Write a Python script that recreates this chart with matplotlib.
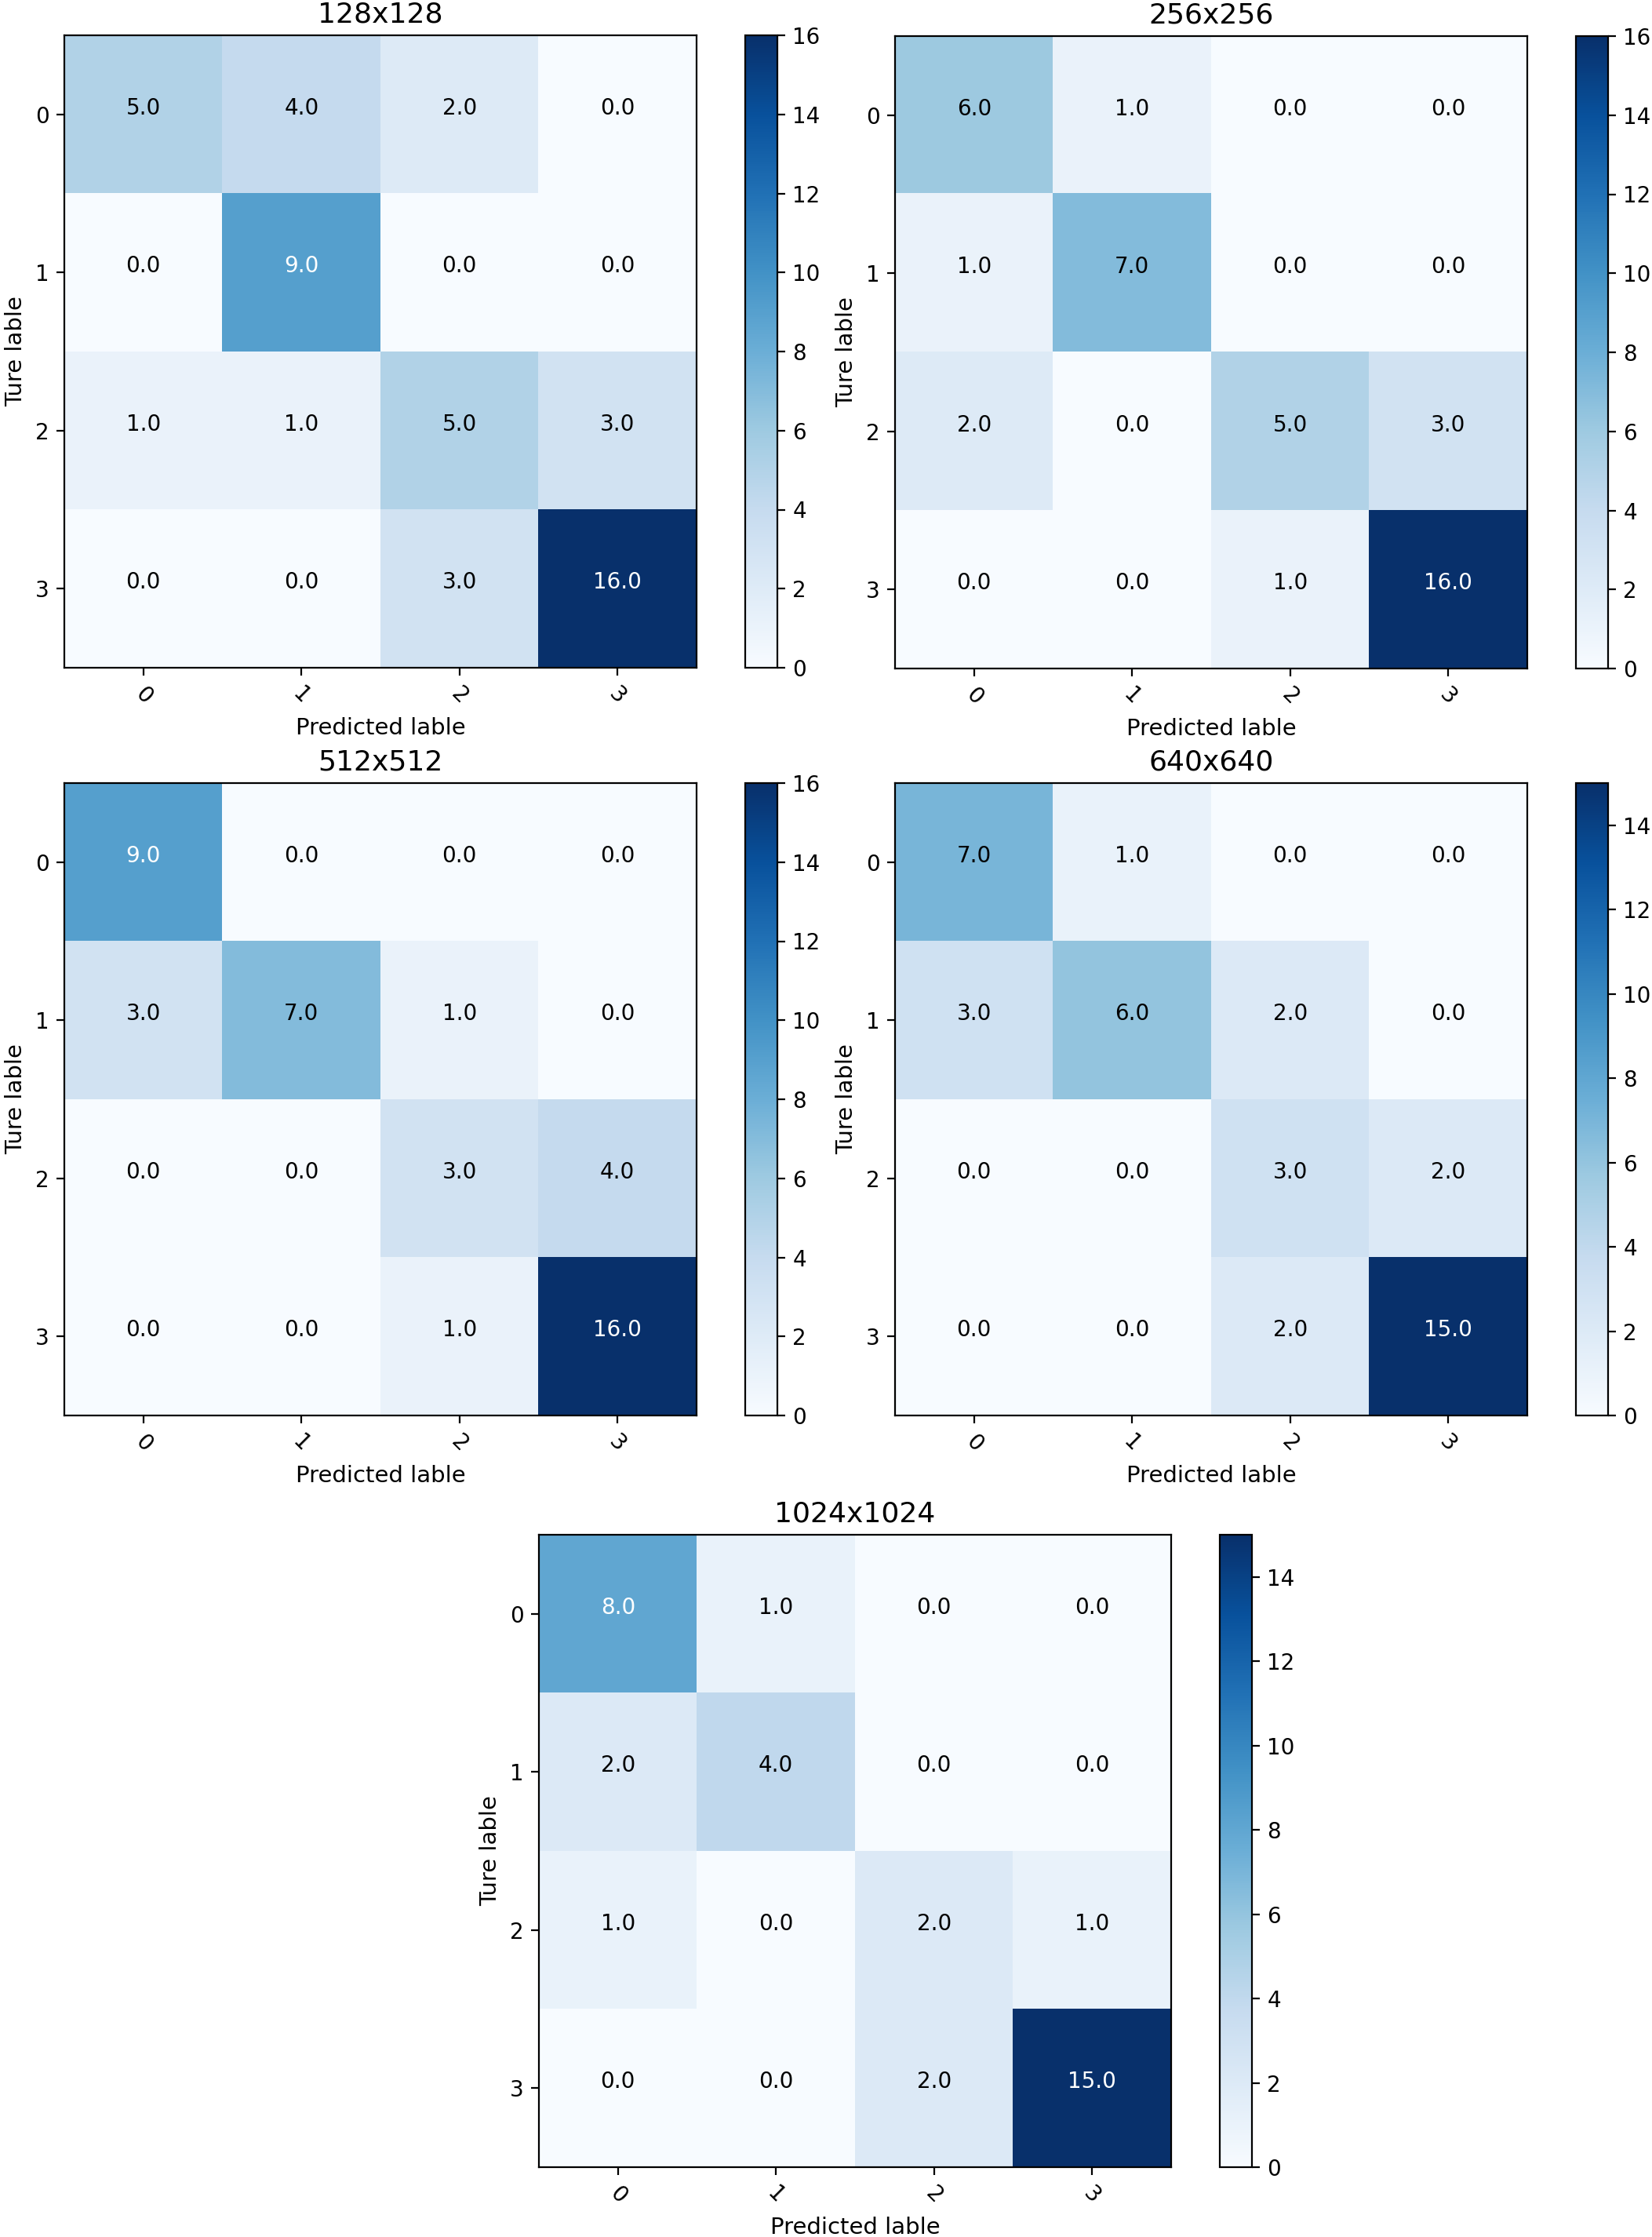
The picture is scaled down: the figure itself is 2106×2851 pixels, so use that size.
import numpy as np
import matplotlib
matplotlib.use("Agg")
import matplotlib.pyplot as plt

titles = ["128x128", "256x256", "512x512", "640x640", "1024x1024"]
classes = ["0", "1", "2", "3"]

cm_128 = [[5, 4, 2, 0],
          [0, 9, 0, 0],
          [1, 1, 5, 3],
          [0, 0, 3, 16]]
cm_256 = [[6, 1, 0, 0],
          [1, 7, 0, 0],
          [2, 0, 5, 3],
          [0, 0, 1, 16]]
cm_512 = [[9, 0, 0, 0],
          [3, 7, 1, 0],
          [0, 0, 3, 4],
          [0, 0, 1, 16]]
cm_640 = [[7, 1, 0, 0],
          [3, 6, 2, 0],
          [0, 0, 3, 2],
          [0, 0, 2, 15]]
cm_1024 = [[8, 1, 0, 0],
           [2, 4, 0, 0],
           [1, 0, 2, 1],
           [0, 0, 2, 15]]
matrices = [cm_128, cm_256, cm_512, cm_640, cm_1024]

W, H = 2106, 2851
DPI = 200
fig = plt.figure(figsize=(W / DPI, H / DPI), dpi=DPI)

# axes boxes in pixels: (left, top)
boxes = [(82, 45), (1141, 46), (82, 998), (1141, 998), (687, 1956)]
SIZE = 806
CB_OFF = 62
CB_W = 41

TICK_FS = 10
ANN_FS = 10
LABEL_FS = 10.5
TITLE_FS = 13

for title, cm, (left, top) in zip(titles, matrices, boxes):
    cm = np.array(cm, dtype=float)
    ax = fig.add_axes([left / W, 1 - (top + SIZE) / H, SIZE / W, SIZE / H])
    vmax = cm.max()
    im = ax.imshow(cm, interpolation="nearest", cmap=plt.cm.Blues, vmin=0, vmax=vmax)
    ax.set_title(title, fontsize=TITLE_FS)
    ticks = np.arange(len(classes))
    ax.set_xticks(ticks)
    ax.set_xticklabels(classes, rotation=-45, fontsize=TICK_FS)
    ax.set_yticks(ticks)
    ax.set_yticklabels(classes, fontsize=TICK_FS)
    ax.set_xlabel("Predicted lable", fontsize=LABEL_FS)
    ax.set_ylabel("Ture lable", fontsize=LABEL_FS)
    thresh = vmax / 2.0
    for i in range(cm.shape[0]):
        for j in range(cm.shape[1]):
            ax.text(j, i, "{:.1f}".format(cm[i, j]), ha="center", va="baseline",
                    fontsize=ANN_FS,
                    color="white" if cm[i, j] > thresh else "black")
    cax = fig.add_axes([(left + SIZE + CB_OFF) / W, 1 - (top + SIZE) / H,
                        CB_W / W, SIZE / H])
    cb = fig.colorbar(im, cax=cax, ticks=np.arange(0, vmax + 1, 2))
    cb.ax.tick_params(labelsize=TICK_FS)

fig.savefig("out.png", dpi=DPI)
